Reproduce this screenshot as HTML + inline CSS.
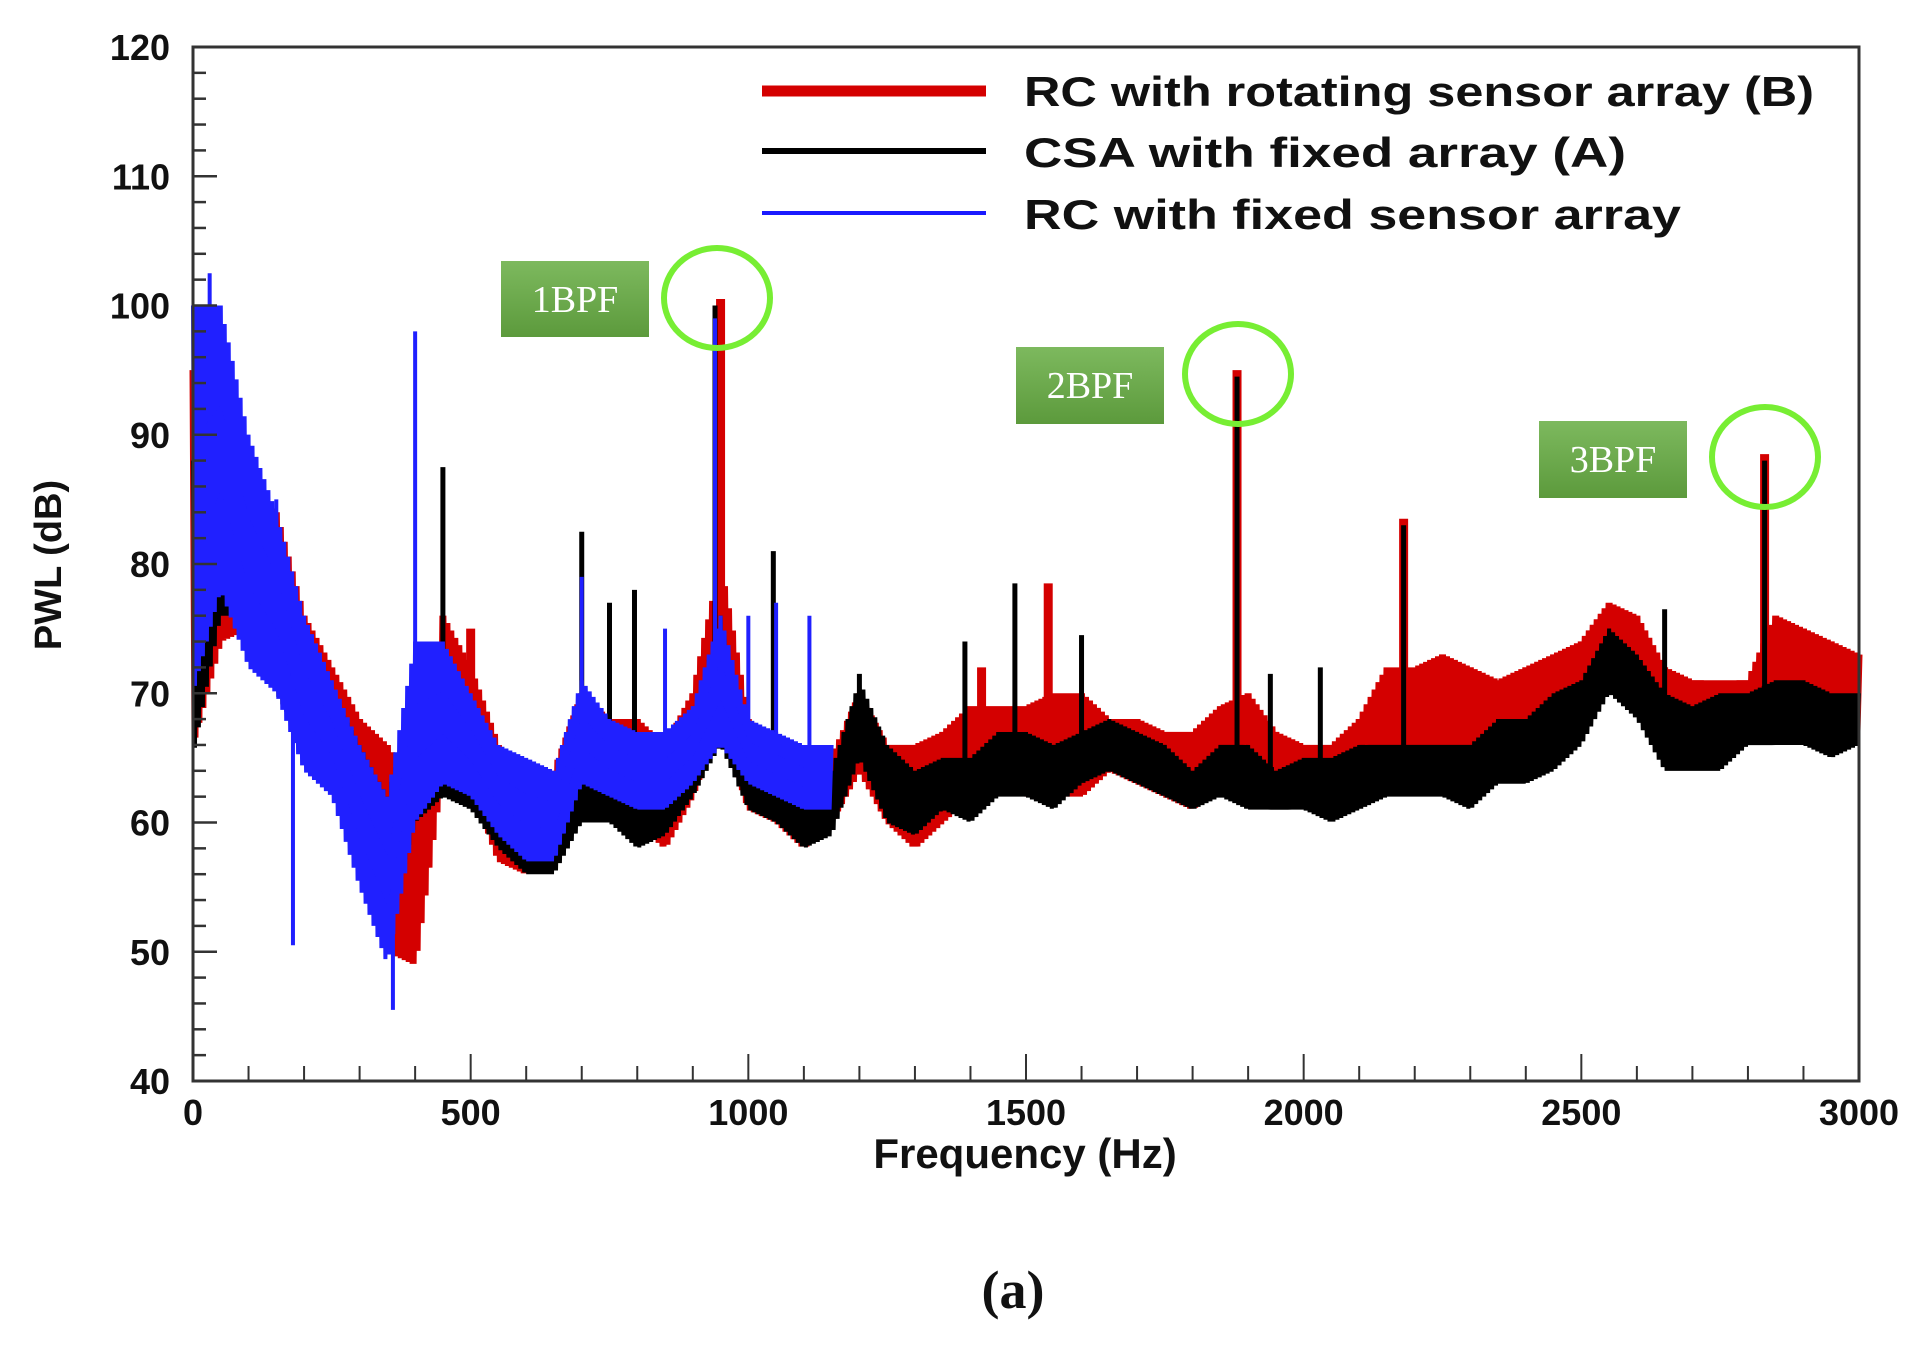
<!DOCTYPE html>
<html><head><meta charset="utf-8"><style>
html,body{margin:0;padding:0;background:#fff;}
svg{display:block;font-family:"Liberation Sans",Arial,sans-serif;}
</style></head><body>
<svg id="chart" width="1919" height="1358" viewBox="0 0 1919 1358" xmlns="http://www.w3.org/2000/svg">
<rect width="1919" height="1358" fill="#fff"/>
<g id="series"></g>
<g id="axes"></g>
<g>
<line x1="762" y1="91" x2="986" y2="91" stroke="#d40000" stroke-width="11"/>
<line x1="762" y1="151" x2="986" y2="151" stroke="#000" stroke-width="6"/>
<line x1="762" y1="213" x2="986" y2="213" stroke="#1a1aff" stroke-width="4"/>
<text x="1024" y="106" font-size="42" font-weight="bold" textLength="790" lengthAdjust="spacingAndGlyphs" fill="#111">RC  with rotating sensor array (B)</text>
<text x="1024" y="167" font-size="42" font-weight="bold" textLength="602" lengthAdjust="spacingAndGlyphs" fill="#111">CSA   with fixed array (A)</text>
<text x="1024" y="229" font-size="42" font-weight="bold" textLength="657" lengthAdjust="spacingAndGlyphs" fill="#111">RC   with fixed sensor array</text>
</g>
<defs><linearGradient id="gg" x1="0" y1="0" x2="0" y2="1"><stop offset="0" stop-color="#7db95e"/><stop offset="1" stop-color="#5c9a3c"/></linearGradient></defs>
<g>
<rect x="501" y="261" width="148" height="76" fill="url(#gg)"/>
<text x="575" y="312" font-size="38" fill="#fff" text-anchor="middle" font-family="'Liberation Serif',serif">1BPF</text>
<ellipse cx="717" cy="298" rx="53" ry="50" fill="none" stroke="#77ee33" stroke-width="6"/>
<rect x="1016" y="347" width="148" height="77" fill="url(#gg)"/>
<text x="1090" y="398" font-size="38" fill="#fff" text-anchor="middle" font-family="'Liberation Serif',serif">2BPF</text>
<ellipse cx="1238" cy="374" rx="53" ry="50" fill="none" stroke="#77ee33" stroke-width="6"/>
<rect x="1539" y="421" width="148" height="77" fill="url(#gg)"/>
<text x="1613" y="472" font-size="38" fill="#fff" text-anchor="middle" font-family="'Liberation Serif',serif">3BPF</text>
<ellipse cx="1765" cy="457" rx="53" ry="50" fill="none" stroke="#77ee33" stroke-width="6"/>
</g>
<text x="1025" y="1168" font-size="42" font-weight="bold" text-anchor="middle" fill="#111">Frequency (Hz)</text>
<text transform="translate(61,565) rotate(-90)" font-size="38" font-weight="bold" text-anchor="middle" fill="#111">PWL (dB)</text>
<text x="1013" y="1308" font-size="54" font-weight="bold" text-anchor="middle" fill="#111" font-family="'Liberation Serif',serif">(a)</text>
</svg>
<script>
const freqGrid = [0,50,100,150,200,250,300,350,400,450,500,550,600,650,700,750,800,850,900,950,1000,1050,1100,1150,1200,1250,1300,1350,1400,1450,1500,1550,1600,1650,1700,1750,1800,1850,1900,1950,2000,2050,2100,2150,2200,2250,2300,2350,2400,2450,2500,2550,2600,2650,2700,2750,2800,2850,2900,2950,3000];
const rcRotLo = [66,74,75,73,67,64,62,50,49,64,63,57,56,57,63,61,60,58,62,68,61,60,58,60,64,60,58,60,62,63,62,62,62,64,63,62,61,63,63,62,62,61,62,64,64,65,66,65,66,68,69,72,70,67,67,65,67,69,68,68,67];
const rcRotHi = [95,90,86,84,76,72,68,66,62,76,72,66,63,64,70,68,68,66,70,80,68,66,64,65,70,66,66,67,69,69,69,70,70,68,68,67,67,69,70,67,66,66,68,72,72,73,72,71,72,73,74,77,76,72,71,71,71,76,75,74,73];
const csaLo = [65,76,76,70,66,63,57,52,60,62,61,58,56,56,60,60,58,59,62,66,61,60,58,59,65,60,59,61,60,62,62,61,63,64,63,62,61,62,61,61,61,60,61,62,62,62,61,63,63,64,66,70,68,64,64,64,66,66,66,65,66];
const csaHi = [88,90,86,83,74,70,66,62,70,71,67,64,62,62,66,65,64,64,68,76,66,64,64,64,71,66,64,65,65,67,67,66,67,68,67,66,64,66,66,64,65,65,66,66,66,66,66,68,68,70,71,75,73,70,69,70,70,71,71,70,70];
const rcFixFreq = [0,50,100,150,200,250,300,350,400,450,500,550,600,650,700,750,800,850,900,950,1000,1050,1100,1150];
const rcFixLo = [70,78,72,70,64,62,55,49,60,63,62,59,57,57,63,62,61,61,63,66,63,62,61,61];
const rcFixHi = [100,100,90,84,76,71,66,62,74,74,70,66,65,64,71,68,67,67,69,76,68,67,66,66];
const rcRotSpikeF = [950,500,1420,1540,1880,2180,2830,1150];
const rcRotSpikeDb = [100.5,75,72,78.5,95,83.5,88.5,64];
const csaSpikeF = [20,450,700,750,795,940,1045,1200,1390,1480,1600,1880,1940,2030,2180,2650,2830];
const csaSpikeDb = [91,87.5,82.5,77,78,100,81,71.5,74,78.5,74.5,94.5,71.5,72,83,76.5,88];
const rcFixSpikeF = [30,100,150,180,360,400,700,850,940,1000,1050,1110];
const rcFixSpikeDb = [102.5,90,85,50.5,45.5,98,79,75,99,76,77,76];
const xTicks = [0,500,1000,1500,2000,2500,3000];
const yTicks = [40,50,60,70,80,90,100,110,120];

const X0=193,X1=1859,Y0=1081,Y1=47;
const xs = f => X0 + (f/3000)*(X1-X0);
const ys = d => Y0 - ((d-40)/80)*(Y0-Y1);
const NS="http://www.w3.org/2000/svg";
const series=document.getElementById('series');
const axes=document.getElementById('axes');

function band(freqs, lo, hi, color, name, sw){
  const g=document.createElementNS(NS,'g');
  
  
  let d='';
  for(let i=0;i<freqs.length-1;i++){
    const steps=14;
    for(let k=0;k<steps;k++){
      const t=k/steps;
      const f=freqs[i]+t*(freqs[i+1]-freqs[i]);
      const l=lo[i]+t*(lo[i+1]-lo[i]);
      const h=hi[i]+t*(hi[i+1]-hi[i]);
      const v=(k%2===0)?h:l;
      d+=(d?'L':'M')+xs(f).toFixed(1)+' '+ys(v).toFixed(1);
    }
  }
  const n=freqs.length-1;
  d+='L'+xs(freqs[n]).toFixed(1)+' '+ys(hi[n]).toFixed(1);
  const p=document.createElementNS(NS,'path');
  p.setAttribute('d',d);p.setAttribute('fill','none');p.setAttribute('stroke',color);
  p.setAttribute('stroke-width',sw);p.setAttribute('stroke-linejoin','miter');
  
  
  g.appendChild(p);
  let pd='';
  for(let i=0;i<freqs.length;i++){pd+=(i?'L':'M')+xs(freqs[i]).toFixed(1)+' '+ys(hi[i]*0.65+lo[i]*0.35).toFixed(1);}
  for(let i=freqs.length-1;i>=0;i--){pd+='L'+xs(freqs[i]).toFixed(1)+' '+ys(lo[i]*0.65+hi[i]*0.35).toFixed(1);}
  const poly=document.createElementNS(NS,'path');
  poly.setAttribute('d',pd+'Z');poly.setAttribute('fill',color);
  
  
  g.appendChild(poly);
  series.appendChild(g);
  return g;
}
function spikes(g, fs, dbs, freqs, lo, hi, color, sw, name){
  fs.forEach((f,i)=>{
    let j=0;while(j<freqs.length-2&&freqs[j+1]<f)j++;
    const t=Math.min(1,Math.max(0,(f-freqs[j])/(freqs[j+1]-freqs[j])));
    const mid=((lo[j]+hi[j])/2)*(1-t)+((lo[j+1]+hi[j+1])/2)*t;
    const l=document.createElementNS(NS,'line');
    l.setAttribute('x1',xs(f));l.setAttribute('x2',xs(f));
    l.setAttribute('y1',ys(mid));l.setAttribute('y2',ys(dbs[i]));
    l.setAttribute('stroke',color);l.setAttribute('stroke-width',sw);
    
    
    g.appendChild(l);
  });
}
const gR=band(freqGrid,rcRotLo,rcRotHi,'#d40000','series-rc-rotating',7);
spikes(gR,rcRotSpikeF,rcRotSpikeDb,freqGrid,rcRotLo,rcRotHi,'#d40000',9,'spike-rc-rotating');
const gC=band(freqGrid,csaLo,csaHi,'#000','series-csa-fixed',4);
spikes(gC,csaSpikeF,csaSpikeDb,freqGrid,csaLo,csaHi,'#000',5,'spike-csa-fixed');
const gB=band(rcFixFreq,rcFixLo,rcFixHi,'#2020ff','series-rc-fixed',4);
spikes(gB,rcFixSpikeF,rcFixSpikeDb,rcFixFreq,rcFixLo,rcFixHi,'#2020ff',4,'spike-rc-fixed');

function ln(x1,y1,x2,y2,w,name){
  const l=document.createElementNS(NS,'line');
  l.setAttribute('x1',x1);l.setAttribute('y1',y1);l.setAttribute('x2',x2);l.setAttribute('y2',y2);
  l.setAttribute('stroke','#333');l.setAttribute('stroke-width',w);
  
  
  axes.appendChild(l);
}
function tx(x,y,s,anchor,name){
  const t=document.createElementNS(NS,'text');
  t.setAttribute('x',x);t.setAttribute('y',y);t.setAttribute('font-size','36');
  t.setAttribute('font-weight','bold');
  t.setAttribute('text-anchor',anchor);t.setAttribute('fill','#111');
  t.textContent=s;
  
  
  axes.appendChild(t);
}
const frame=document.createElementNS(NS,'rect');
frame.setAttribute('x',X0);frame.setAttribute('y',Y1);frame.setAttribute('width',X1-X0);frame.setAttribute('height',Y0-Y1);
frame.setAttribute('fill','none');frame.setAttribute('stroke','#333');frame.setAttribute('stroke-width','3');


axes.appendChild(frame);
for(let f=100;f<3000;f+=100){ const major=f%500===0; ln(xs(f),Y0,xs(f),Y0-(major?27:15),2,'x-tick'); }
for(let d=42;d<120;d+=2){ const major=d%10===0; ln(X0,ys(d),X0+(major?24:13),ys(d),2.5,'y-tick'); }
xTicks.forEach(v=>tx(xs(v),1125,String(v),'middle','x-tick-label'));
yTicks.forEach(v=>tx(170,ys(v)+13,String(v),'end','y-tick-label'));
</script>
</body></html>
